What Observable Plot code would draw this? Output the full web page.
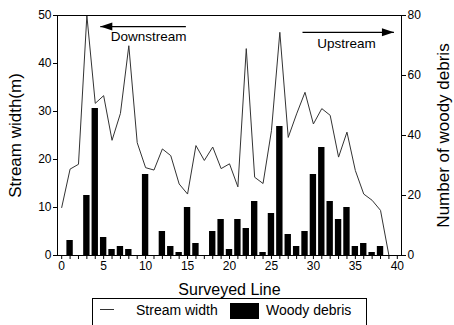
<!DOCTYPE html>
<html>
<head>
<meta charset="utf-8">
<script src="https://cdn.jsdelivr.net/npm/d3@7"></script>
<script src="https://cdn.jsdelivr.net/npm/@observablehq/plot@0.6"></script>
<style>
  html, body { margin: 0; padding: 0; background: #fff; }
  body { font-family: "Liberation Sans", Arial, sans-serif; }
  #wrap { position: relative; width: 454px; height: 325px; overflow: hidden; background: #fff; }
  #legend { position: absolute; left: 92px; top: 298px; width: 275px; height: 40px;
            border: 1.5px solid #000; box-sizing: border-box; }
  .lg { position: absolute; font-size: 14px; line-height: 14px; color: #000; white-space: nowrap; }
</style>
</head>
<body>
<div id="wrap"><div id="chart"></div><div id="legend"></div></div>
<script>
// ---- data ----
const surveyedLine = [0,1,2,3,4,5,6,7,8,9,10,11,12,13,14,15,16,17,18,19,20,21,22,23,24,25,26,27,28,29,30,31,32,33,34,35,36,37,38,39];
const streamWidth  = [10,18,19,50,31.7,33.3,24,29.6,43.7,23.5,18.3,17.8,22.2,20.8,14.9,12.8,22.9,19.8,22.6,18.1,19.1,14.3,43.1,16.3,15,26,46.5,24.6,29.5,34,27.4,30.6,29.2,20.5,25.7,17.7,12.8,11.5,9.4,0];
const woodyDebris  = [0,5,0,20,49,6,2,3,2,0,27,0,8,3,1,16,4,0,8,12,2,12,9,18,1,14,43,7,3,8,27,36,18,12,16,3,4,1,3,0];

const xTicks      = [0,1,2,3,4,5,6,7,8,9,10,11,12,13,14,15,16,17,18,19,20,21,22,23,24,25,26,27,28,29,30,31,32,33,34,35,36,37,38,39,40];
const xTickLabels = [0,5,10,15,20,25,30,35,40];
const widthTicks  = [0,10,20,30,40,50];
const debrisTicks = [0,20,40,60,80];
const seriesNames = ["Stream width", "Woody debris"];
const axisTitles  = {x: "Surveyed Line", left: "Stream width(m)", right: "Number of woody debris"};

// direction annotations (in data units: surveyed line / stream width)
const arrowLabels = ["Downstream", "Upstream"];
const arrowFrom   = [14.8, 28.7];
const arrowTo     = [4.6, 39.6];
const arrowY      = [47.7, 46.5];
const labelX      = [10.35, 33.95];
const labelY      = [45.6, 44.2];

const widthMax = 50, debrisMax = 80;

const rows = surveyedLine.map((s, i) => ({line: s, width: streamWidth[i], debris: woodyDebris[i]}));
const arrows = arrowLabels.map((t, i) => ({text: t, from: arrowFrom[i], to: arrowTo[i], y: arrowY[i], lx: labelX[i], ly: labelY[i]}));

const arrowHead = {
  draw(ctx) { ctx.moveTo(0, 0); ctx.lineTo(-12, -4); ctx.lineTo(-12, 4); ctx.closePath(); }
};

const plot = Plot.plot({
  width: 454, height: 325,
  marginLeft: 57, marginRight: 53, marginTop: 15, marginBottom: 70,
  style: {fontFamily: "Liberation Sans, Arial, sans-serif", fontSize: "12px", background: "white", color: "black"},
  x: {domain: [-0.5, 40.5]},
  y: {domain: [0, widthMax]},
  marks: [
    Plot.rect(rows, {x1: d => d.line - 0.38, x2: d => d.line + 0.38, y1: 0, y2: d => d.debris * widthMax / debrisMax, fill: "black"}),
    Plot.line(rows, {x: "line", y: "width", stroke: "#333", strokeWidth: 1}),
    Plot.frame({stroke: "black", strokeWidth: 1}),
    Plot.axisX({ticks: xTicks, tickFormat: d => xTickLabels.includes(d) ? String(d) : "", tickSize: 4, tickPadding: 2, label: null}),
    Plot.axisY({anchor: "left", ticks: widthTicks, tickSize: 4, tickPadding: 2, label: null}),
    Plot.axisY({anchor: "right", ticks: debrisTicks.map(v => v * widthMax / debrisMax),
                tickFormat: d => String(Math.round(d * debrisMax / widthMax)), tickSize: 4, tickPadding: 2, label: null}),
    Plot.text([axisTitles.left], {frameAnchor: "left", dx: -42, rotate: -90, fontSize: 17, textAnchor: "middle", lineAnchor: "middle"}),
    Plot.text([axisTitles.right], {frameAnchor: "right", dx: 42, rotate: -90, fontSize: 17, textAnchor: "middle", lineAnchor: "middle"}),
    Plot.text([axisTitles.x], {frameAnchor: "bottom", dy: 34, fontSize: 16, textAnchor: "middle", lineAnchor: "middle"}),
    Plot.link(arrows, {x1: "from", x2: "to", y1: "y", y2: "y", stroke: "black", strokeWidth: 1.2}),
    Plot.dot(arrows, {x: "to", y: "y", symbol: arrowHead, fill: "black", stroke: "none", rotate: d => d.to < d.from ? 180 : 0}),
    Plot.text(arrows, {x: "lx", y: "ly", text: "text", fontSize: 13.5, textAnchor: "middle", lineAnchor: "middle"})
  ]
});
document.getElementById("chart").appendChild(plot);

// legend (HTML, below the plot frame)
const lg = document.getElementById("legend");
lg.innerHTML = `
  <div style="position:absolute;left:7px;top:9.5px;width:14px;height:0;border-top:1px solid #333"></div>
  <div class="lg" style="left:43px;top:4px">${seriesNames[0]}</div>
  <div style="position:absolute;left:137px;top:4px;width:29px;height:16px;background:#000"></div>
  <div class="lg" style="left:173px;top:4px">${seriesNames[1]}</div>`;
</script>
</body>
</html>
